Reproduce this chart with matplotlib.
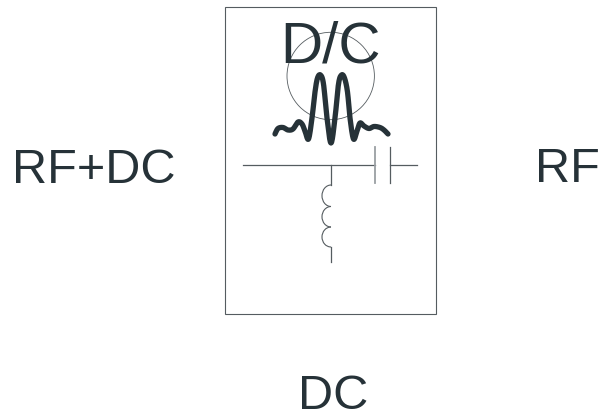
import numpy as np
import matplotlib
matplotlib.use('Agg')
import matplotlib.pyplot as plt
from matplotlib.patches import Circle, Rectangle, Arc

W, H = 598, 417

# pulse shape inside the circle
pulse_x = [275, 278, 283, 288, 293, 298, 302, 305, 308.5, 312, 315, 317.5, 320.5, 323.5, 327, 331, 335, 338.5, 341.5, 344.5, 347.5, 350, 353.5, 357, 360, 364, 369, 374, 380, 384, 388]
pulse_y = [134, 128.5, 127.5, 130, 129, 122, 124, 131, 139, 118, 92, 78, 75, 84, 118, 143, 118, 84, 75, 78, 92, 118, 139, 131, 123, 126, 128.5, 126.5, 127.5, 130, 134]

labels = ['RF+DC', 'RF', 'DC', 'D/C']
label_x = [94, 567, 333.5, 330.5]
label_y = [182.5, 181.5, 409, 62]
label_size = [35, 35, 35, 42]

text_col = '#263238'
line_col = '#555c60'


def smooth(xs, ys, n=12):
    # catmull-rom through the read points
    p = np.column_stack([xs, ys])
    p = np.vstack([p[0], p, p[-1]])
    out = []
    for i in range(1, len(p) - 2):
        for t in np.linspace(0, 1, n, endpoint=False):
            a = 2 * p[i]
            b = p[i + 1] - p[i - 1]
            c = 2 * p[i - 1] - 5 * p[i] + 4 * p[i + 1] - p[i + 2]
            d = -p[i - 1] + 3 * p[i] - 3 * p[i + 1] + p[i + 2]
            out.append(0.5 * (a + b * t + c * t ** 2 + d * t ** 3))
    out.append(p[-2])
    return np.array(out)


fig = plt.figure(figsize=(W / 100, H / 100), dpi=100)
ax = fig.add_axes([0, 0, 1, 1])
ax.set_xlim(0, W)
ax.set_ylim(H, 0)
ax.axis('off')

ax.add_patch(Rectangle((225, 6.5), 211, 307, fill=False, ec=line_col, lw=0.8))
ax.add_patch(Circle((330.7, 76), 43.7, fill=False, ec=line_col, lw=0.6))

# capacitor branch
ax.plot([243, 375], [165, 165], color=line_col, lw=0.9)
ax.plot([375, 375], [147, 183], color='#9a9fa2', lw=1.3)
ax.plot([390, 390], [147, 183], color=line_col, lw=0.9)
ax.plot([390, 417], [165, 165], color=line_col, lw=0.9)

# inductor branch
ax.plot([331, 331], [165, 185], color=line_col, lw=0.9)
ax.plot([331, 331], [247, 262], color=line_col, lw=0.9)
for top, bottom in [(185, 206.5), (206.5, 227), (227, 247)]:
    ax.add_patch(Arc((331, (top + bottom) / 2), 18, bottom - top, theta1=90, theta2=270, ec=line_col, lw=0.8))

curve = smooth(pulse_x, pulse_y)
ax.plot(curve[:, 0], curve[:, 1], color=text_col, lw=3.8, solid_capstyle='round', solid_joinstyle='round')

for s, x, y, size in zip(labels, label_x, label_y, label_size):
    ax.text(x, y, s, color=text_col, fontsize=size, family='Liberation Sans', ha='center', va='baseline')

fig.savefig('out.png', dpi=100)
